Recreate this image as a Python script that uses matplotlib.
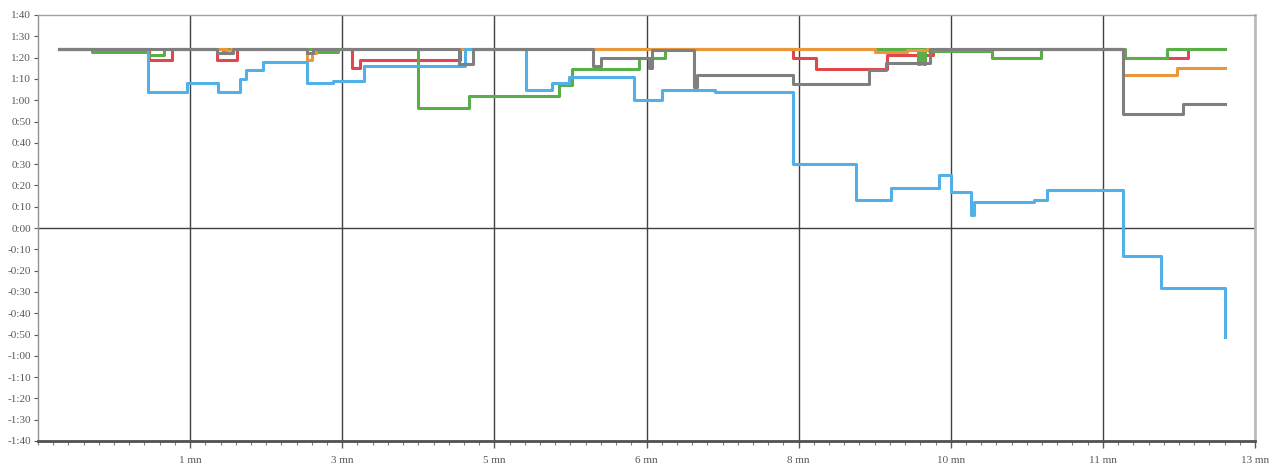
import matplotlib
matplotlib.use("Agg")
import matplotlib.pyplot as plt
from matplotlib.ticker import FuncFormatter, MultipleLocator

# x = elapsed time (s), y = gap (s); step series
blue_x = [14, 72, 98, 118, 133, 137, 148, 177, 194, 214, 281, 321, 338, 349, 392, 410,
          445, 496, 538, 561, 592, 600, 613, 615, 655, 663, 713, 738, 780]
blue_y = [84, 64, 68, 64, 70, 74, 78, 68, 69, 76, 84, 65, 68, 71, 60, 65,
          64, 30, 13, 19, 25, 17, 6, 12, 13, 18, -13, -28, -51]

green_x = [14, 35.5, 72, 83, 121.6, 123.6, 183, 197, 250, 283, 342.5, 351, 395, 412,
           578.5, 580, 581.5, 583, 586, 627, 659, 714.5, 742, 780]
green_y = [84, 82.5, 81, 84, 82, 84, 82.5, 84, 56.5, 62, 67, 74.5, 80, 84,
           77, 84, 77, 84, 83, 80, 84, 80, 84, 84]

red_x = [14, 73, 88, 117.5, 130.5, 206.4, 211.7, 277.4, 496.1, 511.2, 558, 588.3, 713.2, 756, 780]
red_y = [84, 79, 84, 79, 84, 75, 79, 84, 80, 74.5, 81, 84, 80, 84, 84]

orange_x = [14, 124, 126.7, 176.6, 179.9, 182.7, 550.2, 571.2, 584.4, 713.2, 748.7, 780]
orange_y = [84, 82, 84, 79, 82, 84, 82.5, 83.5, 84, 72, 75, 75]

gray_x = [14, 117.7, 128.2, 176.6, 181, 276.7, 286, 365, 370.1, 401.7, 403.6, 431.2,
          433.4, 496.5, 546.3, 557.4, 586.4, 713.4, 752.5, 780]
gray_y = [84, 82, 84, 82, 84, 77, 84, 76, 80, 75, 83.5, 66,
          72, 67.5, 74, 77.5, 84, 53.5, 58, 58]

x_ticks = [100, 200, 300, 400, 500, 600, 700, 800]
x_labels = ["1 mn", "3 mn", "5 mn", "6 mn", "8 mn", "10 mn", "11 mn", "13 mn"]

plt.rcParams['font.family'] = ['Liberation Serif', 'DejaVu Serif']

fig = plt.figure(figsize=(12.8, 4.71), dpi=100)
ax = fig.add_axes([38 / 1280, 1 - 441 / 471, 1217 / 1280, 426 / 471])

lw = 2.2
ax.plot(red_x, red_y, drawstyle="steps-post", color="#E0474C", lw=lw, zorder=3)
ax.plot(green_x, green_y, drawstyle="steps-post", color="#5AAE48", lw=lw, zorder=4)
ax.plot(orange_x, orange_y, drawstyle="steps-post", color="#E8973A", lw=lw, zorder=5)
ax.plot(blue_x, blue_y, drawstyle="steps-post", color="#52B0E8", lw=lw, zorder=6)
ax.plot(gray_x, gray_y, drawstyle="steps-post", color="#7F7F7F", lw=lw, zorder=7)

ax.set_xlim(0, 800)
ax.set_ylim(-100, 100)

ax.axhline(0, color="#404040", lw=1, zorder=2)
for xt in x_ticks:
    ax.axvline(xt, color="#404040", lw=1, zorder=2)

ax.set_xticks(x_ticks)
ax.set_xticklabels(x_labels)
ax.xaxis.set_minor_locator(MultipleLocator(10))
ax.yaxis.set_major_locator(MultipleLocator(10))


def fmt(v, pos):
    v = int(round(v))
    sign = "-" if v < 0 else ""
    v = abs(v)
    return f"{sign}{v // 60}:{v % 60:02d}"


ax.yaxis.set_major_formatter(FuncFormatter(fmt))
ax.tick_params(axis="both", labelsize=8, colors="#595959", labelcolor="#595959")
ax.tick_params(axis="x", which="major", length=5, width=1, pad=6)
ax.tick_params(axis="x", which="minor", length=3, width=0.8, color="#808080")
ax.tick_params(axis="y", which="major", length=3, width=0.8, pad=2)

ax.spines["bottom"].set_color("#505050")
ax.spines["bottom"].set_linewidth(2)
ax.spines["left"].set_color("#909090")
ax.spines["left"].set_linewidth(1)
ax.spines["top"].set_color("#A0A0A0")
ax.spines["top"].set_linewidth(1)
ax.spines["right"].set_color("#BBBBBB")
ax.spines["right"].set_linewidth(2)

fig.savefig("out.png", dpi=100)
